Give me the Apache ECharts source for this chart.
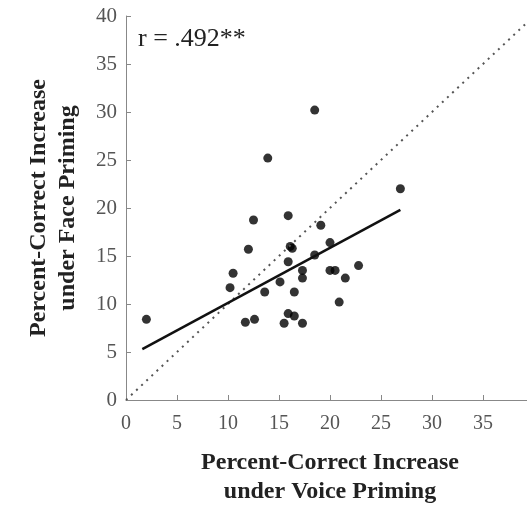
<!DOCTYPE html>
<html>
<head>
<meta charset="utf-8">
<script src="https://cdn.jsdelivr.net/npm/echarts@6/dist/echarts.min.js"></script>
<style>html,body{margin:0;padding:0;background:#fff;}#c{width:527px;height:506px;}</style>
</head>
<body>
<div id="c"></div>
<script>
// Percent-correct increase under voice priming (x) vs face priming (y)
const voiceIncrease = [18.5, 13.9, 26.9, 12.5, 15.9, 19.1, 16.1, 16.3, 20.0, 12.0, 18.5,
  15.9, 10.5, 17.3, 20.0, 20.5, 22.8, 10.2, 17.3, 21.5, 15.1, 13.6, 16.5, 20.9, 15.9, 16.5,
  2.0, 11.7, 12.6, 15.5, 17.3];
const faceIncrease = [30.2, 25.2, 22.0, 18.75, 19.2, 18.2, 16.0, 15.8, 16.4, 15.7, 15.1,
  14.4, 13.2, 13.5, 13.5, 13.5, 14.0, 11.7, 12.7, 12.7, 12.3, 11.25, 11.25, 10.2, 9.0, 8.75,
  8.4, 8.1, 8.4, 8.0, 8.0];
// fitted regression line endpoints
const fitX = [1.6, 26.9];
const fitY = [5.3, 19.8];
// identity (y = x) reference line
const identityX = [0, 40];
const identityY = [0, 40];
const xTicks = [0, 5, 10, 15, 20, 25, 30, 35, 40];
const yTicks = [0, 5, 10, 15, 20, 25, 30, 35, 40];
const rLabel = 'r = .492**';

const pts = voiceIncrease.map((v, i) => [v, faceIncrease[i]]);
const fit = fitX.map((v, i) => [v, fitY[i]]);
const ident = identityX.map((v, i) => [v, identityY[i]]);

const serif = '"Liberation Serif", "DejaVu Serif", serif';
const chart = echarts.init(document.getElementById('c'), null, {renderer: 'canvas'});
chart.setOption({
  animation: false,
  backgroundColor: '#fff',
  grid: {left: 126, top: 16, bottom: 106, right: -7, containLabel: false, outerBoundsMode: 'none'},
  xAxis: {
    type: 'value', min: xTicks[0], max: xTicks[xTicks.length - 1], interval: 5,
    splitLine: {show: false},
    axisLine: {lineStyle: {color: '#888', width: 1}},
    axisTick: {inside: true, length: 5, lineStyle: {color: '#888'}},
    axisLabel: {fontFamily: serif, fontSize: 20, color: '#555', margin: 14, showMaxLabel: false},
    name: 'Percent-Correct Increase\nunder Voice Priming',
    nameLocation: 'middle', nameGap: 48,
    nameTextStyle: {fontFamily: serif, fontSize: 24, fontWeight: 'bold', color: '#222', lineHeight: 29}
  },
  yAxis: {
    type: 'value', min: yTicks[0], max: yTicks[yTicks.length - 1], interval: 5,
    splitLine: {show: false},
    axisLine: {lineStyle: {color: '#888', width: 1}},
    axisTick: {inside: true, length: 5, lineStyle: {color: '#888'}},
    axisLabel: {fontFamily: serif, fontSize: 21, color: '#555', margin: 9},
    name: 'Percent-Correct Increase\nunder Face Priming',
    nameLocation: 'middle', nameGap: 44, nameRotate: 90,
    nameTextStyle: {fontFamily: serif, fontSize: 24, fontWeight: 'bold', color: '#222', lineHeight: 29}
  },
  series: [
    {type: 'line', data: ident, symbol: 'none', silent: true,
      lineStyle: {color: '#555', width: 2, type: [2, 5]}},
    {type: 'line', data: fit, symbol: 'none', silent: true,
      lineStyle: {color: '#111', width: 2.5}},
    {type: 'scatter', data: pts, symbol: 'circle', symbolSize: 9,
      itemStyle: {color: '#000'}}
  ],
  graphic: [
    {type: 'text', left: 138, top: 26,
      style: {text: rLabel, font: '26px ' + serif, fill: '#222'}}
  ]
});
</script>
</body>
</html>
